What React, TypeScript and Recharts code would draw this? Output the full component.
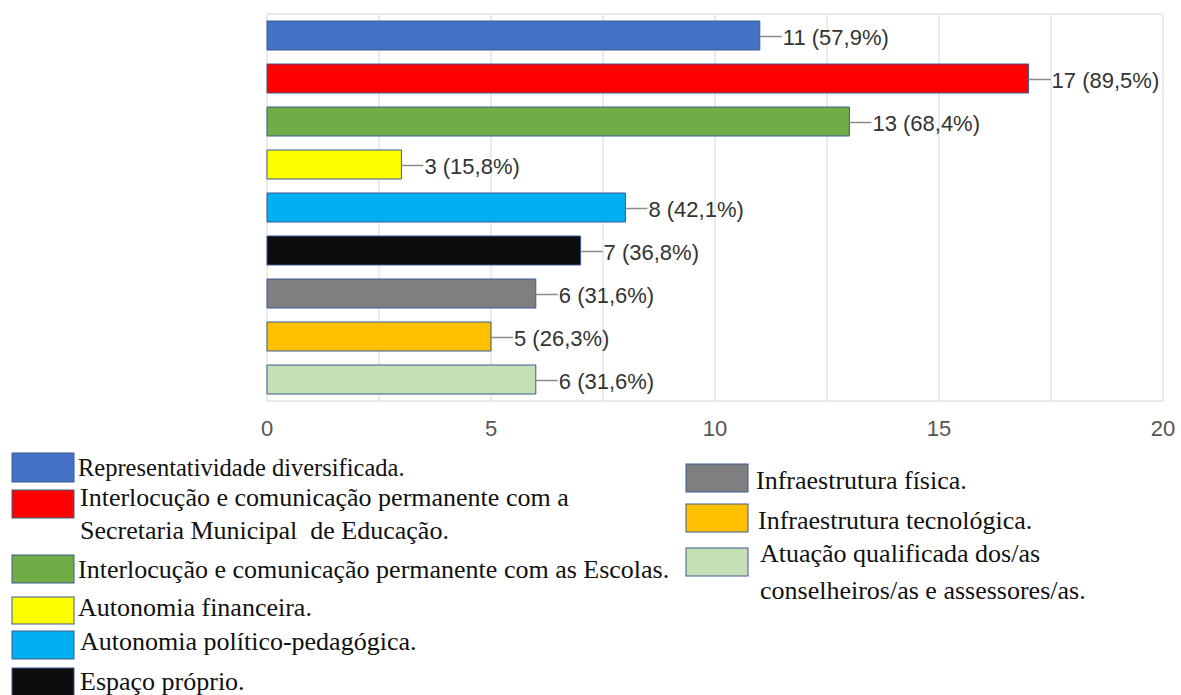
import { BarChart, Bar, XAxis, YAxis, CartesianGrid, LabelList, Cell } from 'recharts'

// data
const categories = [
  'Representatividade diversificada.',
  'Interlocução e comunicação permanente com a\nSecretaria Municipal  de Educação.',
  'Interlocução e comunicação permanente com as Escolas.',
  'Autonomia financeira.',
  'Autonomia político-pedagógica.',
  'Espaço próprio.',
  'Infraestrutura física.',
  'Infraestrutura tecnológica.',
  'Atuação qualificada dos/as\nconselheiros/as e assessores/as.',
]
const counts = [11, 17, 13, 3, 8, 7, 6, 5, 6]
const percents = ['57,9%', '89,5%', '68,4%', '15,8%', '42,1%', '36,8%', '31,6%', '26,3%', '31,6%']
const colors = ['#4472C4', '#FF0000', '#70AD47', '#FFFF00', '#00B0F0', '#0D0D0D', '#7F7F7F', '#FFC000', '#C5E0B4']
const xTicks = [0, 5, 10, 15, 20]
const gridValues = [0, 2.5, 5, 7.5, 10, 12.5, 15, 17.5, 20]

const chartData = categories.map((name, i) => ({ name, value: counts[i], pct: percents[i] }))

// legend placement (box top-left, text baseline of first line)
const legendLayout = [
  { x: 12, y: 453, h: 29, tx: 78, ty: 476, fs: 24.5, gap: 0 },
  { x: 12, y: 490, h: 28, tx: 80, ty: 506, fs: 26, gap: 33 },
  { x: 12, y: 555, h: 28, tx: 78, ty: 578, fs: 26, gap: 0 },
  { x: 12, y: 597, h: 27, tx: 78, ty: 616, fs: 26, gap: 0 },
  { x: 12, y: 631, h: 28, tx: 80, ty: 650, fs: 26, gap: 0 },
  { x: 12, y: 668, h: 28, tx: 80, ty: 690, fs: 26, gap: 0 },
  { x: 686, y: 464, h: 28, tx: 756, ty: 489, fs: 26, gap: 0 },
  { x: 686, y: 504, h: 28, tx: 758, ty: 529, fs: 26, gap: 0 },
  { x: 686, y: 548, h: 28, tx: 760, ty: 562, fs: 26, gap: 37 },
]

const BORDER = '#3A5A95'
const SANS = "'Liberation Sans', Arial, sans-serif"

const renderLabel = (props: any) => {
  const { x, y, width, height, index } = props
  const ex = x + width
  const cy = y + height / 2
  const d = chartData[index]
  return (
    <g>
      <line x1={ex} y1={cy + 1} x2={ex + 22} y2={cy + 1} stroke="#8a8a8a" strokeWidth={1.5} />
      <text x={ex + 23} y={cy + 2} dominantBaseline="central" fontSize={22} fontFamily={SANS} fill="#333">
        {`${d.value} (${d.pct})`}
      </text>
    </g>
  )
}

export default function App() {
  return (
    <div style={{ position: 'absolute', left: 0, top: 0, width: 1181, height: 695, background: '#fff', overflow: 'hidden' }}>
      <BarChart
        width={1181}
        height={450}
        data={chartData}
        layout="vertical"
        margin={{ top: 14, right: 18, left: 267, bottom: 19 }}
        barSize={29}
      >
        <CartesianGrid
          stroke="#e4e4e4"
          strokeWidth={1.5}
          verticalValues={gridValues}
          horizontalCoordinatesGenerator={({ offset }: any) => [offset.top, offset.top + offset.height]}
        />
        <XAxis
          type="number"
          domain={[0, 20]}
          ticks={xTicks}
          axisLine={false}
          tickLine={false}
          tickSize={0}
          tickMargin={19}
          height={30}
          tick={{ fill: '#555', fontSize: 22, fontFamily: SANS }}
        />
        <YAxis
          type="category"
          dataKey="name"
          width={0}
          tick={false}
          tickLine={false}
          axisLine={{ stroke: '#333', strokeWidth: 2 }}
        />
        <Bar dataKey="value" stroke={BORDER} strokeWidth={1} isAnimationActive={false}>
          {chartData.map((_, i) => (
            <Cell key={i} fill={colors[i]} />
          ))}
          <LabelList dataKey="value" content={renderLabel} />
        </Bar>
      </BarChart>
      <svg width={1181} height={695} style={{ position: 'absolute', left: 0, top: 0, pointerEvents: 'none' }}>
        {categories.map((name, i) => {
          const l = legendLayout[i]
          const lines = name.split('\n')
          return (
            <g key={i}>
              <rect x={l.x} y={l.y} width={62} height={l.h} fill={colors[i]} stroke={BORDER} strokeWidth={1} />
              {lines.map((t, j) => (
                <text
                  key={j}
                  x={l.tx}
                  y={l.ty + j * l.gap}
                  fontSize={l.fs}
                  fontFamily="'Liberation Serif', 'Times New Roman', serif"
                  fill="#111"
                  style={{ whiteSpace: 'pre' }}
                >
                  {t}
                </text>
              ))}
            </g>
          )
        })}
      </svg>
    </div>
  )
}
